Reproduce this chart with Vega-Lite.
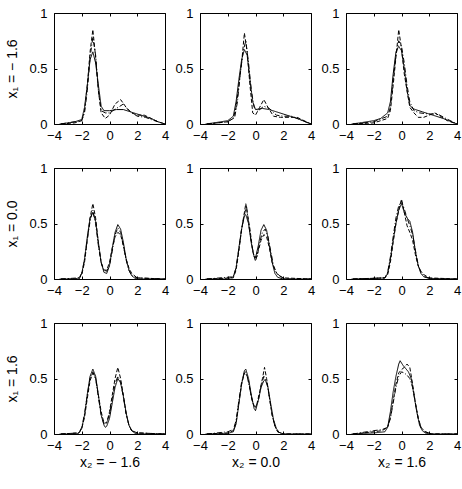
{
"$schema":"https://vega.github.io/schema/vega-lite/v6.json",
"padding":{"left":5,"top":6,"right":5,"bottom":5},
"config":{"font":"Liberation Sans","view":{"stroke":"black","strokeWidth":1},
"axis":{"grid":false,"domain":false,"tickColor":"black","tickSize":-3,"labelFontSize":13,"labelColor":"black","titleFontSize":14,"titleFontWeight":"normal","titleColor":"black","labelFlush":false,"labelOverlap":false,"format":"~g"},
"axisX":{"labelPadding":8,"titlePadding":3},
"axisY":{"labelPadding":10,"titlePadding":9}},
"data":{"values":[
{"p":"11","s":"a","x":-3.6,"y":0},{"p":"11","s":"a","x":-3,"y":0.01},{"p":"11","s":"a","x":-2.5,"y":0.02},{"p":"11","s":"a","x":-2,"y":0.04},{"p":"11","s":"a","x":-1.8,"y":0.15},{"p":"11","s":"a","x":-1.6,"y":0.35},{"p":"11","s":"a","x":-1.4,"y":0.58},{"p":"11","s":"a","x":-1.2,"y":0.65},{"p":"11","s":"a","x":-1.0,"y":0.55},{"p":"11","s":"a","x":-0.8,"y":0.35},{"p":"11","s":"a","x":-0.6,"y":0.16},{"p":"11","s":"a","x":-0.4,"y":0.12},{"p":"11","s":"a","x":0,"y":0.12},{"p":"11","s":"a","x":0.5,"y":0.13},{"p":"11","s":"a","x":1,"y":0.13},{"p":"11","s":"a","x":1.5,"y":0.11},{"p":"11","s":"a","x":2,"y":0.09},{"p":"11","s":"a","x":2.5,"y":0.07},{"p":"11","s":"a","x":3,"y":0.05},{"p":"11","s":"a","x":3.5,"y":0.02},{"p":"11","s":"a","x":4,"y":0},
{"p":"11","s":"b","x":-3.5,"y":0},{"p":"11","s":"b","x":-2.5,"y":0.01},{"p":"11","s":"b","x":-2,"y":0.03},{"p":"11","s":"b","x":-1.8,"y":0.12},{"p":"11","s":"b","x":-1.6,"y":0.35},{"p":"11","s":"b","x":-1.4,"y":0.65},{"p":"11","s":"b","x":-1.2,"y":0.85},{"p":"11","s":"b","x":-1.0,"y":0.6},{"p":"11","s":"b","x":-0.8,"y":0.3},{"p":"11","s":"b","x":-0.6,"y":0.1},{"p":"11","s":"b","x":-0.3,"y":0.05},{"p":"11","s":"b","x":0,"y":0.08},{"p":"11","s":"b","x":0.4,"y":0.18},{"p":"11","s":"b","x":0.8,"y":0.22},{"p":"11","s":"b","x":1.2,"y":0.15},{"p":"11","s":"b","x":1.6,"y":0.1},{"p":"11","s":"b","x":2,"y":0.08},{"p":"11","s":"b","x":2.5,"y":0.08},{"p":"11","s":"b","x":3,"y":0.05},{"p":"11","s":"b","x":3.5,"y":0.02},{"p":"11","s":"b","x":4,"y":0},
{"p":"11","s":"c","x":-3.5,"y":0},{"p":"11","s":"c","x":-2,"y":0.03},{"p":"11","s":"c","x":-1.8,"y":0.1},{"p":"11","s":"c","x":-1.6,"y":0.3},{"p":"11","s":"c","x":-1.4,"y":0.6},{"p":"11","s":"c","x":-1.2,"y":0.78},{"p":"11","s":"c","x":-1.0,"y":0.62},{"p":"11","s":"c","x":-0.8,"y":0.3},{"p":"11","s":"c","x":-0.6,"y":0.12},{"p":"11","s":"c","x":-0.3,"y":0.1},{"p":"11","s":"c","x":0,"y":0.1},{"p":"11","s":"c","x":0.5,"y":0.14},{"p":"11","s":"c","x":1,"y":0.18},{"p":"11","s":"c","x":1.4,"y":0.12},{"p":"11","s":"c","x":2,"y":0.07},{"p":"11","s":"c","x":2.6,"y":0.06},{"p":"11","s":"c","x":3,"y":0.04},{"p":"11","s":"c","x":4,"y":0},

{"p":"12","s":"a","x":-3.6,"y":0},{"p":"12","s":"a","x":-3,"y":0.01},{"p":"12","s":"a","x":-2.5,"y":0.02},{"p":"12","s":"a","x":-2,"y":0.03},{"p":"12","s":"a","x":-1.6,"y":0.07},{"p":"12","s":"a","x":-1.4,"y":0.2},{"p":"12","s":"a","x":-1.2,"y":0.4},{"p":"12","s":"a","x":-1.0,"y":0.58},{"p":"12","s":"a","x":-0.8,"y":0.67},{"p":"12","s":"a","x":-0.6,"y":0.62},{"p":"12","s":"a","x":-0.4,"y":0.4},{"p":"12","s":"a","x":-0.2,"y":0.2},{"p":"12","s":"a","x":0,"y":0.13},{"p":"12","s":"a","x":0.5,"y":0.14},{"p":"12","s":"a","x":1,"y":0.13},{"p":"12","s":"a","x":1.5,"y":0.11},{"p":"12","s":"a","x":2,"y":0.09},{"p":"12","s":"a","x":2.5,"y":0.07},{"p":"12","s":"a","x":3,"y":0.05},{"p":"12","s":"a","x":3.5,"y":0.025},{"p":"12","s":"a","x":4,"y":0},
{"p":"12","s":"b","x":-3.5,"y":0},{"p":"12","s":"b","x":-2,"y":0.02},{"p":"12","s":"b","x":-1.6,"y":0.05},{"p":"12","s":"b","x":-1.4,"y":0.15},{"p":"12","s":"b","x":-1.2,"y":0.35},{"p":"12","s":"b","x":-1.0,"y":0.55},{"p":"12","s":"b","x":-0.8,"y":0.82},{"p":"12","s":"b","x":-0.6,"y":0.65},{"p":"12","s":"b","x":-0.4,"y":0.35},{"p":"12","s":"b","x":-0.2,"y":0.1},{"p":"12","s":"b","x":0,"y":0.08},{"p":"12","s":"b","x":0.3,"y":0.15},{"p":"12","s":"b","x":0.6,"y":0.22},{"p":"12","s":"b","x":0.9,"y":0.15},{"p":"12","s":"b","x":1.3,"y":0.07},{"p":"12","s":"b","x":1.8,"y":0.06},{"p":"12","s":"b","x":2.5,"y":0.06},{"p":"12","s":"b","x":3,"y":0.06},{"p":"12","s":"b","x":3.5,"y":0.03},{"p":"12","s":"b","x":4,"y":0},
{"p":"12","s":"c","x":-3.5,"y":0},{"p":"12","s":"c","x":-2,"y":0.02},{"p":"12","s":"c","x":-1.5,"y":0.06},{"p":"12","s":"c","x":-1.3,"y":0.2},{"p":"12","s":"c","x":-1.1,"y":0.45},{"p":"12","s":"c","x":-0.9,"y":0.65},{"p":"12","s":"c","x":-0.7,"y":0.75},{"p":"12","s":"c","x":-0.5,"y":0.55},{"p":"12","s":"c","x":-0.3,"y":0.3},{"p":"12","s":"c","x":-0.1,"y":0.15},{"p":"12","s":"c","x":0.2,"y":0.12},{"p":"12","s":"c","x":0.6,"y":0.16},{"p":"12","s":"c","x":1,"y":0.14},{"p":"12","s":"c","x":1.5,"y":0.08},{"p":"12","s":"c","x":2,"y":0.07},{"p":"12","s":"c","x":2.6,"y":0.07},{"p":"12","s":"c","x":3.2,"y":0.04},{"p":"12","s":"c","x":4,"y":0},

{"p":"13","s":"a","x":-3.6,"y":0},{"p":"13","s":"a","x":-3,"y":0.01},{"p":"13","s":"a","x":-2,"y":0.03},{"p":"13","s":"a","x":-1.5,"y":0.05},{"p":"13","s":"a","x":-1,"y":0.1},{"p":"13","s":"a","x":-0.8,"y":0.2},{"p":"13","s":"a","x":-0.6,"y":0.45},{"p":"13","s":"a","x":-0.4,"y":0.65},{"p":"13","s":"a","x":-0.2,"y":0.7},{"p":"13","s":"a","x":0,"y":0.66},{"p":"13","s":"a","x":0.2,"y":0.5},{"p":"13","s":"a","x":0.4,"y":0.3},{"p":"13","s":"a","x":0.6,"y":0.17},{"p":"13","s":"a","x":0.8,"y":0.14},{"p":"13","s":"a","x":1,"y":0.13},{"p":"13","s":"a","x":1.5,"y":0.11},{"p":"13","s":"a","x":2,"y":0.09},{"p":"13","s":"a","x":2.5,"y":0.07},{"p":"13","s":"a","x":3,"y":0.05},{"p":"13","s":"a","x":3.5,"y":0.025},{"p":"13","s":"a","x":4,"y":0},
{"p":"13","s":"b","x":-3.5,"y":0},{"p":"13","s":"b","x":-2,"y":0.01},{"p":"13","s":"b","x":-1,"y":0.05},{"p":"13","s":"b","x":-0.8,"y":0.12},{"p":"13","s":"b","x":-0.6,"y":0.35},{"p":"13","s":"b","x":-0.4,"y":0.6},{"p":"13","s":"b","x":-0.2,"y":0.85},{"p":"13","s":"b","x":0,"y":0.68},{"p":"13","s":"b","x":0.2,"y":0.45},{"p":"13","s":"b","x":0.4,"y":0.3},{"p":"13","s":"b","x":0.6,"y":0.15},{"p":"13","s":"b","x":0.9,"y":0.1},{"p":"13","s":"b","x":1.2,"y":0.06},{"p":"13","s":"b","x":1.6,"y":0.06},{"p":"13","s":"b","x":2,"y":0.08},{"p":"13","s":"b","x":2.4,"y":0.1},{"p":"13","s":"b","x":2.8,"y":0.07},{"p":"13","s":"b","x":3.3,"y":0.03},{"p":"13","s":"b","x":4,"y":0},
{"p":"13","s":"c","x":-3.5,"y":0},{"p":"13","s":"c","x":-2,"y":0.02},{"p":"13","s":"c","x":-1,"y":0.07},{"p":"13","s":"c","x":-0.8,"y":0.15},{"p":"13","s":"c","x":-0.6,"y":0.4},{"p":"13","s":"c","x":-0.4,"y":0.62},{"p":"13","s":"c","x":-0.2,"y":0.75},{"p":"13","s":"c","x":0,"y":0.7},{"p":"13","s":"c","x":0.2,"y":0.55},{"p":"13","s":"c","x":0.4,"y":0.35},{"p":"13","s":"c","x":0.6,"y":0.2},{"p":"13","s":"c","x":0.9,"y":0.12},{"p":"13","s":"c","x":1.3,"y":0.1},{"p":"13","s":"c","x":2,"y":0.09},{"p":"13","s":"c","x":2.6,"y":0.09},{"p":"13","s":"c","x":3.2,"y":0.05},{"p":"13","s":"c","x":4,"y":0},

{"p":"21","s":"a","x":-3.6,"y":0},{"p":"21","s":"a","x":-2.5,"y":0},{"p":"21","s":"a","x":-2.2,"y":0.01},{"p":"21","s":"a","x":-2,"y":0.05},{"p":"21","s":"a","x":-1.8,"y":0.18},{"p":"21","s":"a","x":-1.6,"y":0.38},{"p":"21","s":"a","x":-1.4,"y":0.55},{"p":"21","s":"a","x":-1.2,"y":0.6},{"p":"21","s":"a","x":-1.0,"y":0.52},{"p":"21","s":"a","x":-0.8,"y":0.33},{"p":"21","s":"a","x":-0.6,"y":0.15},{"p":"21","s":"a","x":-0.4,"y":0.06},{"p":"21","s":"a","x":-0.2,"y":0.05},{"p":"21","s":"a","x":0,"y":0.12},{"p":"21","s":"a","x":0.2,"y":0.28},{"p":"21","s":"a","x":0.4,"y":0.42},{"p":"21","s":"a","x":0.6,"y":0.49},{"p":"21","s":"a","x":0.8,"y":0.45},{"p":"21","s":"a","x":1.0,"y":0.33},{"p":"21","s":"a","x":1.2,"y":0.18},{"p":"21","s":"a","x":1.4,"y":0.08},{"p":"21","s":"a","x":1.6,"y":0.03},{"p":"21","s":"a","x":1.8,"y":0.01},{"p":"21","s":"a","x":2,"y":0},{"p":"21","s":"a","x":4,"y":0},
{"p":"21","s":"b","x":-3.5,"y":0},{"p":"21","s":"b","x":-2.2,"y":0},{"p":"21","s":"b","x":-2,"y":0.04},{"p":"21","s":"b","x":-1.8,"y":0.15},{"p":"21","s":"b","x":-1.6,"y":0.35},{"p":"21","s":"b","x":-1.4,"y":0.55},{"p":"21","s":"b","x":-1.2,"y":0.68},{"p":"21","s":"b","x":-1.0,"y":0.55},{"p":"21","s":"b","x":-0.8,"y":0.32},{"p":"21","s":"b","x":-0.6,"y":0.14},{"p":"21","s":"b","x":-0.4,"y":0.08},{"p":"21","s":"b","x":-0.2,"y":0.08},{"p":"21","s":"b","x":0,"y":0.15},{"p":"21","s":"b","x":0.2,"y":0.28},{"p":"21","s":"b","x":0.4,"y":0.38},{"p":"21","s":"b","x":0.6,"y":0.42},{"p":"21","s":"b","x":0.8,"y":0.4},{"p":"21","s":"b","x":1.0,"y":0.3},{"p":"21","s":"b","x":1.2,"y":0.18},{"p":"21","s":"b","x":1.4,"y":0.1},{"p":"21","s":"b","x":1.6,"y":0.05},{"p":"21","s":"b","x":2,"y":0.01},{"p":"21","s":"b","x":4,"y":0},
{"p":"21","s":"c","x":-3.5,"y":0},{"p":"21","s":"c","x":-2.2,"y":0.01},{"p":"21","s":"c","x":-2,"y":0.05},{"p":"21","s":"c","x":-1.8,"y":0.17},{"p":"21","s":"c","x":-1.6,"y":0.36},{"p":"21","s":"c","x":-1.4,"y":0.52},{"p":"21","s":"c","x":-1.2,"y":0.62},{"p":"21","s":"c","x":-1.0,"y":0.5},{"p":"21","s":"c","x":-0.8,"y":0.3},{"p":"21","s":"c","x":-0.6,"y":0.15},{"p":"21","s":"c","x":-0.4,"y":0.08},{"p":"21","s":"c","x":-0.2,"y":0.07},{"p":"21","s":"c","x":0,"y":0.12},{"p":"21","s":"c","x":0.2,"y":0.25},{"p":"21","s":"c","x":0.4,"y":0.4},{"p":"21","s":"c","x":0.6,"y":0.46},{"p":"21","s":"c","x":0.8,"y":0.42},{"p":"21","s":"c","x":1.0,"y":0.3},{"p":"21","s":"c","x":1.2,"y":0.17},{"p":"21","s":"c","x":1.4,"y":0.08},{"p":"21","s":"c","x":1.6,"y":0.03},{"p":"21","s":"c","x":2,"y":0.01},{"p":"21","s":"c","x":4,"y":0},

{"p":"22","s":"a","x":-3.6,"y":0},{"p":"22","s":"a","x":-2,"y":0},{"p":"22","s":"a","x":-1.6,"y":0.02},{"p":"22","s":"a","x":-1.4,"y":0.1},{"p":"22","s":"a","x":-1.2,"y":0.28},{"p":"22","s":"a","x":-1.0,"y":0.45},{"p":"22","s":"a","x":-0.8,"y":0.57},{"p":"22","s":"a","x":-0.7,"y":0.58},{"p":"22","s":"a","x":-0.5,"y":0.5},{"p":"22","s":"a","x":-0.3,"y":0.32},{"p":"22","s":"a","x":-0.1,"y":0.2},{"p":"22","s":"a","x":0,"y":0.19},{"p":"22","s":"a","x":0.2,"y":0.3},{"p":"22","s":"a","x":0.4,"y":0.44},{"p":"22","s":"a","x":0.6,"y":0.49},{"p":"22","s":"a","x":0.8,"y":0.44},{"p":"22","s":"a","x":1.0,"y":0.3},{"p":"22","s":"a","x":1.2,"y":0.15},{"p":"22","s":"a","x":1.4,"y":0.05},{"p":"22","s":"a","x":1.6,"y":0.015},{"p":"22","s":"a","x":2,"y":0},{"p":"22","s":"a","x":4,"y":0},
{"p":"22","s":"b","x":-3.5,"y":0},{"p":"22","s":"b","x":-1.6,"y":0.01},{"p":"22","s":"b","x":-1.4,"y":0.08},{"p":"22","s":"b","x":-1.2,"y":0.25},{"p":"22","s":"b","x":-1.0,"y":0.45},{"p":"22","s":"b","x":-0.8,"y":0.6},{"p":"22","s":"b","x":-0.7,"y":0.68},{"p":"22","s":"b","x":-0.6,"y":0.6},{"p":"22","s":"b","x":-0.4,"y":0.45},{"p":"22","s":"b","x":-0.2,"y":0.25},{"p":"22","s":"b","x":0,"y":0.16},{"p":"22","s":"b","x":0.2,"y":0.25},{"p":"22","s":"b","x":0.4,"y":0.35},{"p":"22","s":"b","x":0.6,"y":0.4},{"p":"22","s":"b","x":0.8,"y":0.38},{"p":"22","s":"b","x":1.0,"y":0.28},{"p":"22","s":"b","x":1.2,"y":0.15},{"p":"22","s":"b","x":1.4,"y":0.08},{"p":"22","s":"b","x":1.6,"y":0.04},{"p":"22","s":"b","x":2,"y":0.01},{"p":"22","s":"b","x":4,"y":0},
{"p":"22","s":"c","x":-3.5,"y":0},{"p":"22","s":"c","x":-1.6,"y":0.02},{"p":"22","s":"c","x":-1.4,"y":0.1},{"p":"22","s":"c","x":-1.2,"y":0.27},{"p":"22","s":"c","x":-1.0,"y":0.45},{"p":"22","s":"c","x":-0.8,"y":0.58},{"p":"22","s":"c","x":-0.65,"y":0.66},{"p":"22","s":"c","x":-0.5,"y":0.5},{"p":"22","s":"c","x":-0.3,"y":0.33},{"p":"22","s":"c","x":-0.1,"y":0.2},{"p":"22","s":"c","x":0.1,"y":0.2},{"p":"22","s":"c","x":0.3,"y":0.33},{"p":"22","s":"c","x":0.5,"y":0.42},{"p":"22","s":"c","x":0.7,"y":0.45},{"p":"22","s":"c","x":0.9,"y":0.38},{"p":"22","s":"c","x":1.1,"y":0.25},{"p":"22","s":"c","x":1.3,"y":0.12},{"p":"22","s":"c","x":1.5,"y":0.06},{"p":"22","s":"c","x":1.8,"y":0.02},{"p":"22","s":"c","x":2.2,"y":0},{"p":"22","s":"c","x":4,"y":0},

{"p":"23","s":"a","x":-3.6,"y":0},{"p":"23","s":"a","x":-2,"y":0.005},{"p":"23","s":"a","x":-1.2,"y":0.01},{"p":"23","s":"a","x":-1.0,"y":0.05},{"p":"23","s":"a","x":-0.8,"y":0.18},{"p":"23","s":"a","x":-0.6,"y":0.35},{"p":"23","s":"a","x":-0.4,"y":0.5},{"p":"23","s":"a","x":-0.2,"y":0.62},{"p":"23","s":"a","x":0,"y":0.68},{"p":"23","s":"a","x":0.2,"y":0.6},{"p":"23","s":"a","x":0.4,"y":0.55},{"p":"23","s":"a","x":0.6,"y":0.52},{"p":"23","s":"a","x":0.8,"y":0.42},{"p":"23","s":"a","x":1.0,"y":0.25},{"p":"23","s":"a","x":1.2,"y":0.12},{"p":"23","s":"a","x":1.4,"y":0.05},{"p":"23","s":"a","x":1.6,"y":0.02},{"p":"23","s":"a","x":2,"y":0.005},{"p":"23","s":"a","x":4,"y":0},
{"p":"23","s":"b","x":-3.5,"y":0},{"p":"23","s":"b","x":-1.2,"y":0.01},{"p":"23","s":"b","x":-1.0,"y":0.04},{"p":"23","s":"b","x":-0.8,"y":0.15},{"p":"23","s":"b","x":-0.6,"y":0.33},{"p":"23","s":"b","x":-0.4,"y":0.5},{"p":"23","s":"b","x":-0.2,"y":0.62},{"p":"23","s":"b","x":0,"y":0.72},{"p":"23","s":"b","x":0.2,"y":0.6},{"p":"23","s":"b","x":0.4,"y":0.48},{"p":"23","s":"b","x":0.6,"y":0.42},{"p":"23","s":"b","x":0.8,"y":0.35},{"p":"23","s":"b","x":1.0,"y":0.22},{"p":"23","s":"b","x":1.2,"y":0.12},{"p":"23","s":"b","x":1.4,"y":0.07},{"p":"23","s":"b","x":1.6,"y":0.04},{"p":"23","s":"b","x":2,"y":0.01},{"p":"23","s":"b","x":4,"y":0},
{"p":"23","s":"c","x":-3.5,"y":0},{"p":"23","s":"c","x":-1.2,"y":0.01},{"p":"23","s":"c","x":-1.0,"y":0.06},{"p":"23","s":"c","x":-0.8,"y":0.2},{"p":"23","s":"c","x":-0.6,"y":0.38},{"p":"23","s":"c","x":-0.4,"y":0.55},{"p":"23","s":"c","x":-0.2,"y":0.66},{"p":"23","s":"c","x":0,"y":0.7},{"p":"23","s":"c","x":0.2,"y":0.63},{"p":"23","s":"c","x":0.4,"y":0.55},{"p":"23","s":"c","x":0.6,"y":0.48},{"p":"23","s":"c","x":0.8,"y":0.4},{"p":"23","s":"c","x":1.0,"y":0.26},{"p":"23","s":"c","x":1.2,"y":0.13},{"p":"23","s":"c","x":1.4,"y":0.06},{"p":"23","s":"c","x":1.7,"y":0.02},{"p":"23","s":"c","x":2.2,"y":0},{"p":"23","s":"c","x":4,"y":0},

{"p":"31","s":"a","x":-3.6,"y":0},{"p":"31","s":"a","x":-2.4,"y":0},{"p":"31","s":"a","x":-2.2,"y":0.01},{"p":"31","s":"a","x":-2,"y":0.05},{"p":"31","s":"a","x":-1.8,"y":0.17},{"p":"31","s":"a","x":-1.6,"y":0.36},{"p":"31","s":"a","x":-1.4,"y":0.52},{"p":"31","s":"a","x":-1.2,"y":0.585},{"p":"31","s":"a","x":-1.0,"y":0.52},{"p":"31","s":"a","x":-0.8,"y":0.35},{"p":"31","s":"a","x":-0.6,"y":0.17},{"p":"31","s":"a","x":-0.4,"y":0.08},{"p":"31","s":"a","x":-0.3,"y":0.06},{"p":"31","s":"a","x":-0.2,"y":0.07},{"p":"31","s":"a","x":0,"y":0.14},{"p":"31","s":"a","x":0.2,"y":0.28},{"p":"31","s":"a","x":0.4,"y":0.42},{"p":"31","s":"a","x":0.6,"y":0.5},{"p":"31","s":"a","x":0.8,"y":0.46},{"p":"31","s":"a","x":1.0,"y":0.34},{"p":"31","s":"a","x":1.2,"y":0.19},{"p":"31","s":"a","x":1.4,"y":0.08},{"p":"31","s":"a","x":1.6,"y":0.03},{"p":"31","s":"a","x":1.8,"y":0.01},{"p":"31","s":"a","x":2,"y":0},{"p":"31","s":"a","x":4,"y":0},
{"p":"31","s":"b","x":-3.5,"y":0},{"p":"31","s":"b","x":-2.2,"y":0.01},{"p":"31","s":"b","x":-2,"y":0.05},{"p":"31","s":"b","x":-1.8,"y":0.15},{"p":"31","s":"b","x":-1.6,"y":0.32},{"p":"31","s":"b","x":-1.4,"y":0.48},{"p":"31","s":"b","x":-1.2,"y":0.55},{"p":"31","s":"b","x":-1.0,"y":0.5},{"p":"31","s":"b","x":-0.8,"y":0.35},{"p":"31","s":"b","x":-0.6,"y":0.2},{"p":"31","s":"b","x":-0.4,"y":0.1},{"p":"31","s":"b","x":-0.2,"y":0.1},{"p":"31","s":"b","x":0,"y":0.2},{"p":"31","s":"b","x":0.2,"y":0.35},{"p":"31","s":"b","x":0.4,"y":0.5},{"p":"31","s":"b","x":0.6,"y":0.6},{"p":"31","s":"b","x":0.8,"y":0.5},{"p":"31","s":"b","x":1.0,"y":0.35},{"p":"31","s":"b","x":1.2,"y":0.18},{"p":"31","s":"b","x":1.4,"y":0.08},{"p":"31","s":"b","x":1.6,"y":0.03},{"p":"31","s":"b","x":2,"y":0.01},{"p":"31","s":"b","x":4,"y":0},
{"p":"31","s":"c","x":-3.5,"y":0},{"p":"31","s":"c","x":-2.2,"y":0.01},{"p":"31","s":"c","x":-2,"y":0.06},{"p":"31","s":"c","x":-1.8,"y":0.18},{"p":"31","s":"c","x":-1.6,"y":0.35},{"p":"31","s":"c","x":-1.4,"y":0.5},{"p":"31","s":"c","x":-1.2,"y":0.56},{"p":"31","s":"c","x":-1.0,"y":0.5},{"p":"31","s":"c","x":-0.8,"y":0.33},{"p":"31","s":"c","x":-0.6,"y":0.17},{"p":"31","s":"c","x":-0.4,"y":0.09},{"p":"31","s":"c","x":-0.2,"y":0.1},{"p":"31","s":"c","x":0,"y":0.18},{"p":"31","s":"c","x":0.2,"y":0.32},{"p":"31","s":"c","x":0.4,"y":0.45},{"p":"31","s":"c","x":0.6,"y":0.52},{"p":"31","s":"c","x":0.8,"y":0.47},{"p":"31","s":"c","x":1.0,"y":0.33},{"p":"31","s":"c","x":1.2,"y":0.18},{"p":"31","s":"c","x":1.4,"y":0.08},{"p":"31","s":"c","x":1.6,"y":0.03},{"p":"31","s":"c","x":2,"y":0.01},{"p":"31","s":"c","x":4,"y":0},

{"p":"32","s":"a","x":-3.6,"y":0},{"p":"32","s":"a","x":-2,"y":0.005},{"p":"32","s":"a","x":-1.6,"y":0.02},{"p":"32","s":"a","x":-1.4,"y":0.09},{"p":"32","s":"a","x":-1.2,"y":0.27},{"p":"32","s":"a","x":-1.0,"y":0.45},{"p":"32","s":"a","x":-0.8,"y":0.57},{"p":"32","s":"a","x":-0.7,"y":0.585},{"p":"32","s":"a","x":-0.5,"y":0.5},{"p":"32","s":"a","x":-0.3,"y":0.35},{"p":"32","s":"a","x":-0.1,"y":0.23},{"p":"32","s":"a","x":0,"y":0.21},{"p":"32","s":"a","x":0.2,"y":0.3},{"p":"32","s":"a","x":0.4,"y":0.42},{"p":"32","s":"a","x":0.6,"y":0.48},{"p":"32","s":"a","x":0.7,"y":0.49},{"p":"32","s":"a","x":0.9,"y":0.42},{"p":"32","s":"a","x":1.1,"y":0.27},{"p":"32","s":"a","x":1.3,"y":0.13},{"p":"32","s":"a","x":1.5,"y":0.05},{"p":"32","s":"a","x":1.7,"y":0.015},{"p":"32","s":"a","x":2,"y":0},{"p":"32","s":"a","x":4,"y":0},
{"p":"32","s":"b","x":-3.5,"y":0},{"p":"32","s":"b","x":-2,"y":0.01},{"p":"32","s":"b","x":-1.6,"y":0.03},{"p":"32","s":"b","x":-1.4,"y":0.1},{"p":"32","s":"b","x":-1.2,"y":0.28},{"p":"32","s":"b","x":-1.0,"y":0.45},{"p":"32","s":"b","x":-0.8,"y":0.55},{"p":"32","s":"b","x":-0.7,"y":0.56},{"p":"32","s":"b","x":-0.5,"y":0.48},{"p":"32","s":"b","x":-0.3,"y":0.33},{"p":"32","s":"b","x":-0.1,"y":0.25},{"p":"32","s":"b","x":0.1,"y":0.27},{"p":"32","s":"b","x":0.3,"y":0.38},{"p":"32","s":"b","x":0.5,"y":0.5},{"p":"32","s":"b","x":0.65,"y":0.6},{"p":"32","s":"b","x":0.8,"y":0.5},{"p":"32","s":"b","x":1.0,"y":0.33},{"p":"32","s":"b","x":1.2,"y":0.17},{"p":"32","s":"b","x":1.4,"y":0.07},{"p":"32","s":"b","x":1.6,"y":0.02},{"p":"32","s":"b","x":2,"y":0},{"p":"32","s":"b","x":4,"y":0},
{"p":"32","s":"c","x":-3.5,"y":0},{"p":"32","s":"c","x":-2,"y":0.02},{"p":"32","s":"c","x":-1.6,"y":0.04},{"p":"32","s":"c","x":-1.4,"y":0.12},{"p":"32","s":"c","x":-1.2,"y":0.3},{"p":"32","s":"c","x":-1.0,"y":0.47},{"p":"32","s":"c","x":-0.8,"y":0.55},{"p":"32","s":"c","x":-0.6,"y":0.52},{"p":"32","s":"c","x":-0.4,"y":0.4},{"p":"32","s":"c","x":-0.2,"y":0.28},{"p":"32","s":"c","x":0,"y":0.24},{"p":"32","s":"c","x":0.2,"y":0.3},{"p":"32","s":"c","x":0.4,"y":0.43},{"p":"32","s":"c","x":0.6,"y":0.52},{"p":"32","s":"c","x":0.8,"y":0.48},{"p":"32","s":"c","x":1.0,"y":0.33},{"p":"32","s":"c","x":1.2,"y":0.17},{"p":"32","s":"c","x":1.4,"y":0.07},{"p":"32","s":"c","x":1.6,"y":0.02},{"p":"32","s":"c","x":2,"y":0},{"p":"32","s":"c","x":4,"y":0},

{"p":"33","s":"a","x":-3.6,"y":0},{"p":"33","s":"a","x":-2,"y":0.01},{"p":"33","s":"a","x":-1.2,"y":0.02},{"p":"33","s":"a","x":-1.0,"y":0.06},{"p":"33","s":"a","x":-0.8,"y":0.2},{"p":"33","s":"a","x":-0.6,"y":0.38},{"p":"33","s":"a","x":-0.4,"y":0.52},{"p":"33","s":"a","x":-0.2,"y":0.63},{"p":"33","s":"a","x":-0.1,"y":0.66},{"p":"33","s":"a","x":0.1,"y":0.62},{"p":"33","s":"a","x":0.3,"y":0.59},{"p":"33","s":"a","x":0.5,"y":0.56},{"p":"33","s":"a","x":0.7,"y":0.5},{"p":"33","s":"a","x":0.9,"y":0.35},{"p":"33","s":"a","x":1.1,"y":0.2},{"p":"33","s":"a","x":1.3,"y":0.08},{"p":"33","s":"a","x":1.5,"y":0.03},{"p":"33","s":"a","x":1.7,"y":0.01},{"p":"33","s":"a","x":2,"y":0},{"p":"33","s":"a","x":4,"y":0},
{"p":"33","s":"b","x":-3.5,"y":0},{"p":"33","s":"b","x":-2,"y":0.02},{"p":"33","s":"b","x":-1.4,"y":0.03},{"p":"33","s":"b","x":-1.0,"y":0.06},{"p":"33","s":"b","x":-0.8,"y":0.15},{"p":"33","s":"b","x":-0.6,"y":0.3},{"p":"33","s":"b","x":-0.4,"y":0.45},{"p":"33","s":"b","x":-0.2,"y":0.55},{"p":"33","s":"b","x":0,"y":0.58},{"p":"33","s":"b","x":0.2,"y":0.6},{"p":"33","s":"b","x":0.4,"y":0.63},{"p":"33","s":"b","x":0.6,"y":0.6},{"p":"33","s":"b","x":0.8,"y":0.45},{"p":"33","s":"b","x":1.0,"y":0.28},{"p":"33","s":"b","x":1.2,"y":0.15},{"p":"33","s":"b","x":1.4,"y":0.06},{"p":"33","s":"b","x":1.7,"y":0.02},{"p":"33","s":"b","x":2.2,"y":0},{"p":"33","s":"b","x":4,"y":0},
{"p":"33","s":"c","x":-3.5,"y":0},{"p":"33","s":"c","x":-2,"y":0.03},{"p":"33","s":"c","x":-1.4,"y":0.04},{"p":"33","s":"c","x":-1.0,"y":0.06},{"p":"33","s":"c","x":-0.8,"y":0.14},{"p":"33","s":"c","x":-0.6,"y":0.28},{"p":"33","s":"c","x":-0.4,"y":0.42},{"p":"33","s":"c","x":-0.2,"y":0.52},{"p":"33","s":"c","x":0,"y":0.56},{"p":"33","s":"c","x":0.2,"y":0.55},{"p":"33","s":"c","x":0.4,"y":0.53},{"p":"33","s":"c","x":0.6,"y":0.5},{"p":"33","s":"c","x":0.8,"y":0.42},{"p":"33","s":"c","x":1.0,"y":0.28},{"p":"33","s":"c","x":1.2,"y":0.14},{"p":"33","s":"c","x":1.4,"y":0.06},{"p":"33","s":"c","x":1.7,"y":0.02},{"p":"33","s":"c","x":2.2,"y":0},{"p":"33","s":"c","x":4,"y":0}
]},
"columns":3,
"spacing":{"row":44,"column":35},
"bounds":"flush",
"concat":[
{"width":111,"height":111,"transform":[{"filter":"datum.p=='11'"}],"encoding":{"strokeDash":{"field":"s","type":"nominal","scale":{"domain":["b","c","a"],"range":[[4,2],[5,2,1,2],[1,0]]},"legend":null},"strokeWidth":{"field":"s","type":"nominal","scale":{"domain":["b","c","a"],"range":[1,1,2]},"legend":null}},"layer":[{"mark":{"type":"line","color":"black"},"encoding":{"x":{"field":"x","type":"quantitative","scale":{"domain":[-4,4]},"axis":{"values":[-4,-2,0,2,4],"title":null}},"y":{"field":"y","type":"quantitative","scale":{"domain":[0,1]},"axis":{"values":[0,0.5,1],"title":"x₁ = − 1.6"}}}},{"mark":{"type":"line","opacity":0},"encoding":{"x":{"field":"x","type":"quantitative","axis":{"orient":"top","labels":false,"values":[-4,-2,0,2,4],"title":null}},"y":{"field":"y","type":"quantitative","axis":{"orient":"right","labels":false,"values":[0,0.5,1],"title":null}}}}],"resolve":{"axis":{"x":"independent","y":"independent"}}},
{"width":111,"height":111,"transform":[{"filter":"datum.p=='12'"}],"encoding":{"strokeDash":{"field":"s","type":"nominal","scale":{"domain":["b","c","a"],"range":[[4,2],[5,2,1,2],[1,0]]},"legend":null},"strokeWidth":{"field":"s","type":"nominal","scale":{"domain":["b","c","a"],"range":[1,1,2]},"legend":null}},"layer":[{"mark":{"type":"line","color":"black"},"encoding":{"x":{"field":"x","type":"quantitative","scale":{"domain":[-4,4]},"axis":{"values":[-4,-2,0,2,4],"title":null}},"y":{"field":"y","type":"quantitative","scale":{"domain":[0,1]},"axis":{"values":[0,0.5,1],"title":null}}}},{"mark":{"type":"line","opacity":0},"encoding":{"x":{"field":"x","type":"quantitative","axis":{"orient":"top","labels":false,"values":[-4,-2,0,2,4],"title":null}},"y":{"field":"y","type":"quantitative","axis":{"orient":"right","labels":false,"values":[0,0.5,1],"title":null}}}}],"resolve":{"axis":{"x":"independent","y":"independent"}}},
{"width":111,"height":111,"transform":[{"filter":"datum.p=='13'"}],"encoding":{"strokeDash":{"field":"s","type":"nominal","scale":{"domain":["b","c","a"],"range":[[4,2],[5,2,1,2],[1,0]]},"legend":null},"strokeWidth":{"field":"s","type":"nominal","scale":{"domain":["b","c","a"],"range":[1,1,2]},"legend":null}},"layer":[{"mark":{"type":"line","color":"black"},"encoding":{"x":{"field":"x","type":"quantitative","scale":{"domain":[-4,4]},"axis":{"values":[-4,-2,0,2,4],"title":null}},"y":{"field":"y","type":"quantitative","scale":{"domain":[0,1]},"axis":{"values":[0,0.5,1],"title":null}}}},{"mark":{"type":"line","opacity":0},"encoding":{"x":{"field":"x","type":"quantitative","axis":{"orient":"top","labels":false,"values":[-4,-2,0,2,4],"title":null}},"y":{"field":"y","type":"quantitative","axis":{"orient":"right","labels":false,"values":[0,0.5,1],"title":null}}}}],"resolve":{"axis":{"x":"independent","y":"independent"}}},
{"width":111,"height":111,"transform":[{"filter":"datum.p=='21'"}],"encoding":{"strokeDash":{"field":"s","type":"nominal","scale":{"domain":["b","c","a"],"range":[[4,2],[5,2,1,2],[1,0]]},"legend":null},"strokeWidth":{"field":"s","type":"nominal","scale":{"domain":["b","c","a"],"range":[1,1,2]},"legend":null}},"layer":[{"mark":{"type":"line","color":"black"},"encoding":{"x":{"field":"x","type":"quantitative","scale":{"domain":[-4,4]},"axis":{"values":[-4,-2,0,2,4],"title":null}},"y":{"field":"y","type":"quantitative","scale":{"domain":[0,1]},"axis":{"values":[0,0.5,1],"title":"x₁ = 0.0"}}}},{"mark":{"type":"line","opacity":0},"encoding":{"x":{"field":"x","type":"quantitative","axis":{"orient":"top","labels":false,"values":[-4,-2,0,2,4],"title":null}},"y":{"field":"y","type":"quantitative","axis":{"orient":"right","labels":false,"values":[0,0.5,1],"title":null}}}}],"resolve":{"axis":{"x":"independent","y":"independent"}}},
{"width":111,"height":111,"transform":[{"filter":"datum.p=='22'"}],"encoding":{"strokeDash":{"field":"s","type":"nominal","scale":{"domain":["b","c","a"],"range":[[4,2],[5,2,1,2],[1,0]]},"legend":null},"strokeWidth":{"field":"s","type":"nominal","scale":{"domain":["b","c","a"],"range":[1,1,2]},"legend":null}},"layer":[{"mark":{"type":"line","color":"black"},"encoding":{"x":{"field":"x","type":"quantitative","scale":{"domain":[-4,4]},"axis":{"values":[-4,-2,0,2,4],"title":null}},"y":{"field":"y","type":"quantitative","scale":{"domain":[0,1]},"axis":{"values":[0,0.5,1],"title":null}}}},{"mark":{"type":"line","opacity":0},"encoding":{"x":{"field":"x","type":"quantitative","axis":{"orient":"top","labels":false,"values":[-4,-2,0,2,4],"title":null}},"y":{"field":"y","type":"quantitative","axis":{"orient":"right","labels":false,"values":[0,0.5,1],"title":null}}}}],"resolve":{"axis":{"x":"independent","y":"independent"}}},
{"width":111,"height":111,"transform":[{"filter":"datum.p=='23'"}],"encoding":{"strokeDash":{"field":"s","type":"nominal","scale":{"domain":["b","c","a"],"range":[[4,2],[5,2,1,2],[1,0]]},"legend":null},"strokeWidth":{"field":"s","type":"nominal","scale":{"domain":["b","c","a"],"range":[1,1,2]},"legend":null}},"layer":[{"mark":{"type":"line","color":"black"},"encoding":{"x":{"field":"x","type":"quantitative","scale":{"domain":[-4,4]},"axis":{"values":[-4,-2,0,2,4],"title":null}},"y":{"field":"y","type":"quantitative","scale":{"domain":[0,1]},"axis":{"values":[0,0.5,1],"title":null}}}},{"mark":{"type":"line","opacity":0},"encoding":{"x":{"field":"x","type":"quantitative","axis":{"orient":"top","labels":false,"values":[-4,-2,0,2,4],"title":null}},"y":{"field":"y","type":"quantitative","axis":{"orient":"right","labels":false,"values":[0,0.5,1],"title":null}}}}],"resolve":{"axis":{"x":"independent","y":"independent"}}},
{"width":111,"height":111,"transform":[{"filter":"datum.p=='31'"}],"encoding":{"strokeDash":{"field":"s","type":"nominal","scale":{"domain":["b","c","a"],"range":[[4,2],[5,2,1,2],[1,0]]},"legend":null},"strokeWidth":{"field":"s","type":"nominal","scale":{"domain":["b","c","a"],"range":[1,1,2]},"legend":null}},"layer":[{"mark":{"type":"line","color":"black"},"encoding":{"x":{"field":"x","type":"quantitative","scale":{"domain":[-4,4]},"axis":{"values":[-4,-2,0,2,4],"title":"x₂ = − 1.6"}},"y":{"field":"y","type":"quantitative","scale":{"domain":[0,1]},"axis":{"values":[0,0.5,1],"title":"x₁ = 1.6"}}}},{"mark":{"type":"line","opacity":0},"encoding":{"x":{"field":"x","type":"quantitative","axis":{"orient":"top","labels":false,"values":[-4,-2,0,2,4],"title":null}},"y":{"field":"y","type":"quantitative","axis":{"orient":"right","labels":false,"values":[0,0.5,1],"title":null}}}}],"resolve":{"axis":{"x":"independent","y":"independent"}}},
{"width":111,"height":111,"transform":[{"filter":"datum.p=='32'"}],"encoding":{"strokeDash":{"field":"s","type":"nominal","scale":{"domain":["b","c","a"],"range":[[4,2],[5,2,1,2],[1,0]]},"legend":null},"strokeWidth":{"field":"s","type":"nominal","scale":{"domain":["b","c","a"],"range":[1,1,2]},"legend":null}},"layer":[{"mark":{"type":"line","color":"black"},"encoding":{"x":{"field":"x","type":"quantitative","scale":{"domain":[-4,4]},"axis":{"values":[-4,-2,0,2,4],"title":"x₂ = 0.0"}},"y":{"field":"y","type":"quantitative","scale":{"domain":[0,1]},"axis":{"values":[0,0.5,1],"title":null}}}},{"mark":{"type":"line","opacity":0},"encoding":{"x":{"field":"x","type":"quantitative","axis":{"orient":"top","labels":false,"values":[-4,-2,0,2,4],"title":null}},"y":{"field":"y","type":"quantitative","axis":{"orient":"right","labels":false,"values":[0,0.5,1],"title":null}}}}],"resolve":{"axis":{"x":"independent","y":"independent"}}},
{"width":111,"height":111,"transform":[{"filter":"datum.p=='33'"}],"encoding":{"strokeDash":{"field":"s","type":"nominal","scale":{"domain":["b","c","a"],"range":[[4,2],[5,2,1,2],[1,0]]},"legend":null},"strokeWidth":{"field":"s","type":"nominal","scale":{"domain":["b","c","a"],"range":[1,1,2]},"legend":null}},"layer":[{"mark":{"type":"line","color":"black"},"encoding":{"x":{"field":"x","type":"quantitative","scale":{"domain":[-4,4]},"axis":{"values":[-4,-2,0,2,4],"title":"x₂ = 1.6"}},"y":{"field":"y","type":"quantitative","scale":{"domain":[0,1]},"axis":{"values":[0,0.5,1],"title":null}}}},{"mark":{"type":"line","opacity":0},"encoding":{"x":{"field":"x","type":"quantitative","axis":{"orient":"top","labels":false,"values":[-4,-2,0,2,4],"title":null}},"y":{"field":"y","type":"quantitative","axis":{"orient":"right","labels":false,"values":[0,0.5,1],"title":null}}}}],"resolve":{"axis":{"x":"independent","y":"independent"}}}
]
}
